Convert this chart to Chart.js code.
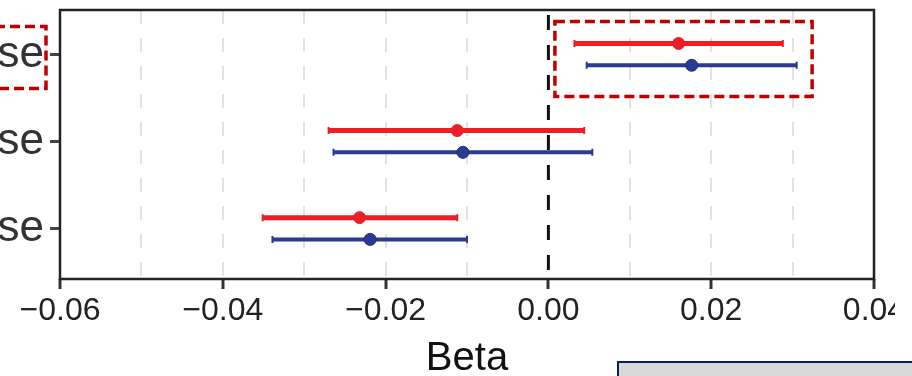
<!DOCTYPE html>
<html>
<head>
    <title>Beta</title>
    <script src="https://cdn.jsdelivr.net/npm/chart.js@4/dist/chart.umd.min.js"></script>
    <style>
        body { margin: 0; background: #fff; }
    </style>
</head>
<body>
    <canvas id="myChart" width="912" height="376"></canvas>

    <script>
        // rows, top to bottom (labels are cut off on the left in the original)
        let rowLabels = ['se', 'se', 'se'];

        // red series
        let redBeta = [0.0160, -0.0112, -0.0232];
        let redLow = [0.0032, -0.0270, -0.0351];
        let redHigh = [0.0288, 0.0044, -0.0112];

        // blue series
        let blueBeta = [0.0176, -0.0105, -0.0219];
        let blueLow = [0.0047, -0.0264, -0.0339];
        let blueHigh = [0.0305, 0.0054, -0.0100];

        let xTickLabels = [-0.06, -0.04, -0.02, 0.00, 0.02, 0.04];
        let xGridStep = 0.01;

        const RED = '#ee1d26';
        const BLUE = '#2b3a92';

        function makePoints(beta, offset) {
            return beta.map((b, i) => ({ x: b, y: i + 1 + offset }));
        }

        function isMajor(v) {
            return xTickLabels.some(t => Math.abs(t - v) < 1e-9);
        }

        function fmt(v) {
            let s = Math.abs(v).toFixed(2);
            return v < -1e-9 ? '\u2212' + s : s;
        }

        // error bars + frame + zero line
        const forestPlugin = {
            id: 'forest',
            beforeDatasetsDraw(chart) {
                let ctx = chart.ctx;
                let xs = chart.scales.x;
                let ys = chart.scales.y;
                let a = chart.chartArea;

                chart.data.datasets.forEach(ds => {
                    ds.data.forEach((p, i) => {
                        let y = ys.getPixelForValue(p.y);
                        let x1 = xs.getPixelForValue(ds.low[i]);
                        let x2 = xs.getPixelForValue(ds.high[i]);
                        ctx.save();
                        ctx.strokeStyle = ds.barColor;
                        ctx.lineWidth = ds.barWidth;
                        ctx.beginPath();
                        ctx.moveTo(x1, y);
                        ctx.lineTo(x2, y);
                        ctx.stroke();
                        if (ds.cap) {
                            ctx.lineWidth = 2;
                            ctx.beginPath();
                            ctx.moveTo(x1, y - ds.cap); ctx.lineTo(x1, y + ds.cap);
                            ctx.moveTo(x2, y - ds.cap); ctx.lineTo(x2, y + ds.cap);
                            ctx.stroke();
                        }
                        ctx.restore();
                    });
                });

                // vertical dashed line at zero
                let x0 = xs.getPixelForValue(0);
                ctx.save();
                ctx.strokeStyle = '#111';
                ctx.lineWidth = 3;
                ctx.setLineDash([15, 15]);
                ctx.lineDashOffset = -5;
                ctx.beginPath();
                ctx.moveTo(x0, a.top);
                ctx.lineTo(x0, a.bottom);
                ctx.stroke();
                ctx.restore();

                // panel border
                ctx.save();
                ctx.strokeStyle = '#222';
                ctx.lineWidth = 2.5;
                ctx.strokeRect(a.left, a.top, a.right - a.left, a.bottom - a.top);
                ctx.restore();
            },
            afterDraw(chart) {
                let ctx = chart.ctx;
                let xs = chart.scales.x;
                let ys = chart.scales.y;
                let yRow = ys.getPixelForValue(1);

                ctx.save();
                ctx.strokeStyle = '#c00000';
                ctx.lineWidth = 3.5;
                ctx.setLineDash([10, 5]);
                // box around the first row label
                ctx.strokeRect(-5, yRow - 28, 51, 62);
                // box around the first row's intervals
                let bx1 = xs.getPixelForValue(0.0008);
                let bx2 = xs.getPixelForValue(0.0324);
                ctx.strokeRect(bx1, yRow - 33, bx2 - bx1, 75);
                ctx.restore();

                // right edge of the original is cut off
                ctx.save();
                ctx.fillStyle = '#fff';
                ctx.fillRect(895, 283, 20, 45);
                // partial box at the bottom right
                ctx.fillStyle = '#d9d9d9';
                ctx.fillRect(618, 362, 300, 20);
                ctx.strokeStyle = '#0b1f5c';
                ctx.lineWidth = 2;
                ctx.strokeRect(618, 362, 300, 20);
                ctx.restore();
            }
        };

        let ctx = document.getElementById('myChart');

        let myChart = new Chart(ctx, {
            type: 'scatter',
            data: {
                datasets: [
                    {
                        label: 'red',
                        data: makePoints(redBeta, -0.125),
                        low: redLow,
                        high: redHigh,
                        barColor: RED,
                        barWidth: 5,
                        cap: 3.5,
                        backgroundColor: RED,
                        borderColor: RED,
                        pointRadius: 6,
                        borderWidth: 1
                    },
                    {
                        label: 'blue',
                        data: makePoints(blueBeta, 0.125),
                        low: blueLow,
                        high: blueHigh,
                        barColor: BLUE,
                        barWidth: 4,
                        cap: 3.5,
                        backgroundColor: BLUE,
                        borderColor: '#1f2a6e',
                        pointRadius: 6,
                        borderWidth: 1
                    }
                ]
            },
            plugins: [forestPlugin],
            options: {
                responsive: false,
                animation: false,
                layout: { padding: { top: 10, right: 38, left: 0, bottom: 0 } },
                plugins: {
                    legend: { display: false },
                    tooltip: { enabled: false }
                },
                scales: {
                    x: {
                        type: 'linear',
                        min: -0.06,
                        max: 0.04,
                        afterFit: s => { s.height = 97; s.paddingLeft = 0; s.paddingRight = 0; },
                        afterBuildTicks: s => {
                            let t = [];
                            for (let k = -6; k <= 4; k++) t.push({ value: k * xGridStep });
                            s.ticks = t;
                        },
                        border: { display: false, dash: [14, 14] },
                        grid: {
                            color: c => (c.tick && Math.abs(c.tick.value) < 1e-9) ? 'rgba(0,0,0,0)' : '#e2e2e2',
                            lineWidth: 2,
                            tickLength: 10,
                            tickWidth: 3,
                            tickColor: c => (c.tick && isMajor(c.tick.value)) ? '#333' : 'rgba(0,0,0,0)'
                        },
                        ticks: {
                            autoSkip: false,
                            maxRotation: 0,
                            padding: 3,
                            color: '#222',
                            font: { family: 'Liberation Sans', size: 32 },
                            callback: v => isMajor(v) ? fmt(v) : ''
                        },
                        title: {
                            display: true,
                            text: 'Beta',
                            color: '#111',
                            font: { family: 'Liberation Sans', size: 40 },
                            padding: { top: 0, bottom: -7 }
                        }
                    },
                    y: {
                        type: 'linear',
                        reverse: true,
                        min: 0.49,
                        max: 3.58,
                        afterFit: s => { s.width = 60; s.paddingTop = 0; s.paddingBottom = 0; },
                        afterBuildTicks: s => {
                            s.ticks = rowLabels.map((l, i) => ({ value: i + 1 }));
                        },
                        border: { display: false },
                        grid: {
                            drawOnChartArea: false,
                            tickLength: 10,
                            tickWidth: 3,
                            tickColor: '#444'
                        },
                        ticks: {
                            padding: 6,
                            color: '#333',
                            font: { family: 'Liberation Sans', size: 44 },
                            callback: (v, i) => rowLabels[i]
                        }
                    }
                }
            }
        });
    </script>
</body>
</html>
